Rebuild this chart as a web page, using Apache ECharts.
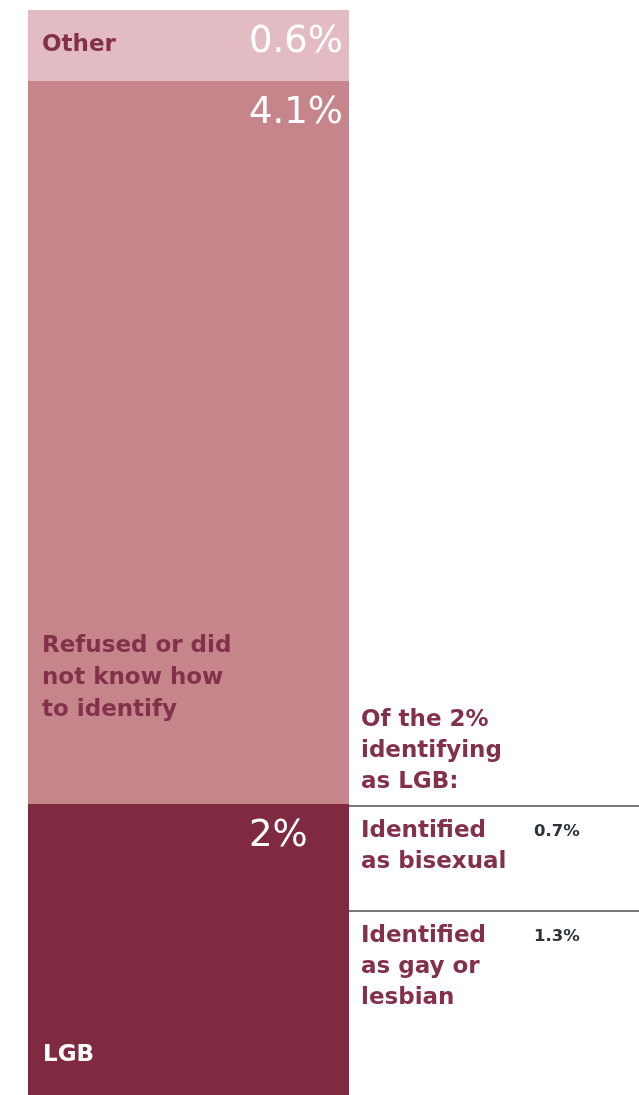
<!DOCTYPE html>
<html>
<head>
<meta charset="utf-8">
<script src="https://cdn.jsdelivr.net/npm/echarts@6/dist/echarts.min.js"></script>
<style>
html,body{margin:0;padding:0;background:#fff;}
#chart{width:639px;height:1095px;}
</style>
</head>
<body>
<div id="chart"></div>
<script>
// ---- data ----
const categories = ['LGB', 'Refused or did not know how to identify', 'Other'];
const displayNames = ['LGB', 'Refused or did\nnot know how\nto identify', 'Other'];
const values = [2, 4.1, 0.6];
const subTitle = 'Of the 2%\nidentifying\nas LGB:';
const subCategories = ['Identified as gay or lesbian', 'Identified as bisexual'];
const subNameLines = [['Identified', 'as gay or\nlesbian'], ['Identified', 'as bisexual']];
const subValues = [1.3, 0.7];

// ---- styles / layout ----
const barColors = ['#7f2a40', '#c5858b', '#e2bbc3'];
const nameColors = ['#ffffff', '#83304a', '#83304a'];
const segLayout = [
  {top: 804, height: 291},
  {top: 81, height: 723},
  {top: 10, height: 71}
];
const nameLabelPos = [[15, 251], [14, 549], [14, 35]];
const nameVAlign = ['middle', 'top', 'middle'];
const boldFont = 'DejaVu Sans';
const numFont = 'DejaVu Sans';
const maroon = '#83304a';

const grids = [], xAxes = [], yAxes = [], series = [];
values.forEach((v, i) => {
  grids.push({left: 28, width: 321, top: segLayout[i].top, height: segLayout[i].height, outerBoundsMode: 'none'});
  xAxes.push({type: 'category', gridIndex: i, data: [categories[i]], show: false});
  yAxes.push({type: 'value', gridIndex: i, min: 0, max: v, show: false});
  series.push({
    type: 'bar', name: categories[i], xAxisIndex: i, yAxisIndex: i,
    data: [v], barWidth: '100%', barGap: '-100%',
    itemStyle: {color: barColors[i]},
    label: {
      show: true, position: [221, 32], align: 'left', verticalAlign: 'middle',
      formatter: p => p.value + '%', color: '#ffffff',
      fontFamily: numFont, fontSize: 37, fontWeight: 'normal'
    }
  });
  series.push({
    type: 'bar', name: categories[i] + ' label', xAxisIndex: i, yAxisIndex: i,
    data: [v], barWidth: '100%', barGap: '-100%',
    itemStyle: {color: 'rgba(0,0,0,0)'},
    label: {
      show: true, position: nameLabelPos[i], align: 'left', verticalAlign: nameVAlign[i],
      formatter: () => displayNames[i], color: nameColors[i],
      fontFamily: boldFont, fontSize: 23, fontWeight: 'bold', lineHeight: 32
    }
  });
});

// sub breakdown grid
const si = values.length;
grids.push({left: 349, right: 0, top: 806, height: 300, outerBoundsMode: 'none'});
xAxes.push({type: 'category', gridIndex: si, data: ['LGB'], show: false});
yAxes.push({type: 'value', gridIndex: si, min: 0, max: subValues.reduce((a, b) => a + b, 0), show: false});
let cum = 0;
const cumTops = [];
subValues.forEach((v, j) => {
  cum += v;
  cumTops.push(Math.round(cum * 100) / 100);
  series.push({
    type: 'bar', name: subCategories[j], xAxisIndex: si, yAxisIndex: si, stack: 'sub',
    data: [v], barWidth: '100%',
    itemStyle: {color: 'rgba(255,255,255,0)'},
    label: {
      show: true, position: [12, 10], align: 'left', verticalAlign: 'top',
      formatter: () => '{a|' + subNameLines[j][0] + '}{v|' + v + '%}\n{n|' + subNameLines[j][1] + '}',
      rich: {
        a: {width: 173, fontFamily: boldFont, fontSize: 23, fontWeight: 'bold', color: maroon, lineHeight: 31, verticalAlign: 'middle'},
        v: {fontFamily: boldFont, fontSize: 16.5, fontWeight: 'bold', color: '#2b3238', lineHeight: 31, verticalAlign: 'middle'},
        n: {fontFamily: boldFont, fontSize: 23, fontWeight: 'bold', color: maroon, lineHeight: 31}
      }
    }
  });
});
series[series.length - 1].markLine = {
  silent: true, symbol: 'none', label: {show: false},
  lineStyle: {color: '#4d4d4d', width: 1.5, type: 'solid'},
  data: cumTops.map(t => ({yAxis: t}))
};

const chart = echarts.init(document.getElementById('chart'), null, {renderer: 'canvas'});
chart.setOption({
  animation: false,
  backgroundColor: '#ffffff',
  title: {
    text: subTitle, left: 361, top: 705, padding: 0,
    textStyle: {fontFamily: boldFont, fontSize: 23, fontWeight: 'bold', color: maroon, lineHeight: 31}
  },
  grid: grids,
  xAxis: xAxes,
  yAxis: yAxes,
  series: series
});
</script>
</body>
</html>
